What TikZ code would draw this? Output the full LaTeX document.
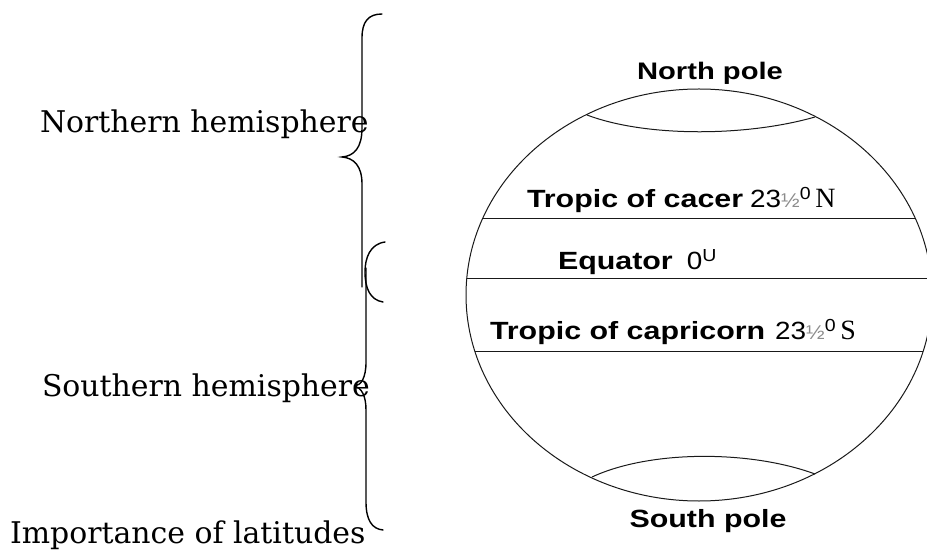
\documentclass[tikz,border=0pt]{standalone}
\usepackage{fontspec}
\setmainfont{DejaVu Serif}
\setsansfont{Liberation Sans}
\newfontfamily\latfont{Liberation Sans}[FakeStretch=1.22]
\newfontfamily\numfont{Liberation Sans}[FakeStretch=1.12]
\newfontfamily\letterfont{Liberation Serif}
\newcommand{\halfdeg}[1]{{\numfont\mdseries 23{\color{black!45}\fontsize{20}{22}\selectfont ½}\textsuperscript{0}\,{\fontsize{28}{30}\letterfont #1}}}

\begin{document}
\begin{tikzpicture}[x=1bp, y=-1bp,
  every node/.style={inner sep=0pt, outer sep=0pt},
  earth/.style={line width=1bp, draw=black!90},
  brace/.style={line width=1.4bp, line cap=round},
  zone/.style={font=\fontsize{30}{32}\selectfont, anchor=base west},
  lat/.style={font=\fontsize{25}{28}\latfont\bfseries, anchor=base west},
  pole/.style={lat, anchor=base}
]
\useasboundingbox (0,0) rectangle (927,551);

% globe and its circles of latitude
\draw[earth] (699,295) ellipse [x radius=233, y radius=206];
\draw[earth] (587,115) .. controls (645,137) and (745,137) .. (815,117);
\draw[earth] (592,477) .. controls (650,450) and (750,450) .. (815,474);
\draw[earth] (482,219) -- (916,219);
\draw[earth] (467,279) -- (931,279);
\draw[earth] (475,351) -- (923,351);

\node[pole, font=\fontsize{24}{26}\latfont\bfseries] (np) at (710,80) {North pole};
\node[pole] (sp) at (708,527) {South pole};
\node[lat] (cancer) at (527,208) {Tropic of cacer\hspace{7bp}\halfdeg{N}};
\node[lat] (equator) at (558,270) {Equator\hspace{14bp}{\numfont\mdseries 0\textsuperscript{U}}};
\node[lat] (capricorn) at (490,340) {Tropic of capricorn\hspace{10bp}\halfdeg{S}};

% hemispheres
\node[zone] (north) at (40,133) {Northern hemisphere};
\node[zone] (south) at (42,396) {Southern hemisphere};
\node[zone] (title) at (10,543) {Importance of latitudes};

\draw[brace] (382,14) .. controls (368,14) and (362,22) .. (362,38) -- (362,128)
  .. controls (362,148) and (354,156) .. (342,157)
  .. controls (354,158) and (362,166) .. (362,184) -- (362,287);
\draw[brace] (366,268) -- (366,362)
  .. controls (366,378) and (361,385) .. (355,386)
  .. controls (361,388) and (366,395) .. (366,410) -- (366,502)
  .. controls (366,520) and (372,529) .. (383,530);
\draw[brace] (385,242) .. controls (370,244) and (365,258) .. (365,272)
  .. controls (365,288) and (370,300) .. (383,302);
\end{tikzpicture}
\end{document}
